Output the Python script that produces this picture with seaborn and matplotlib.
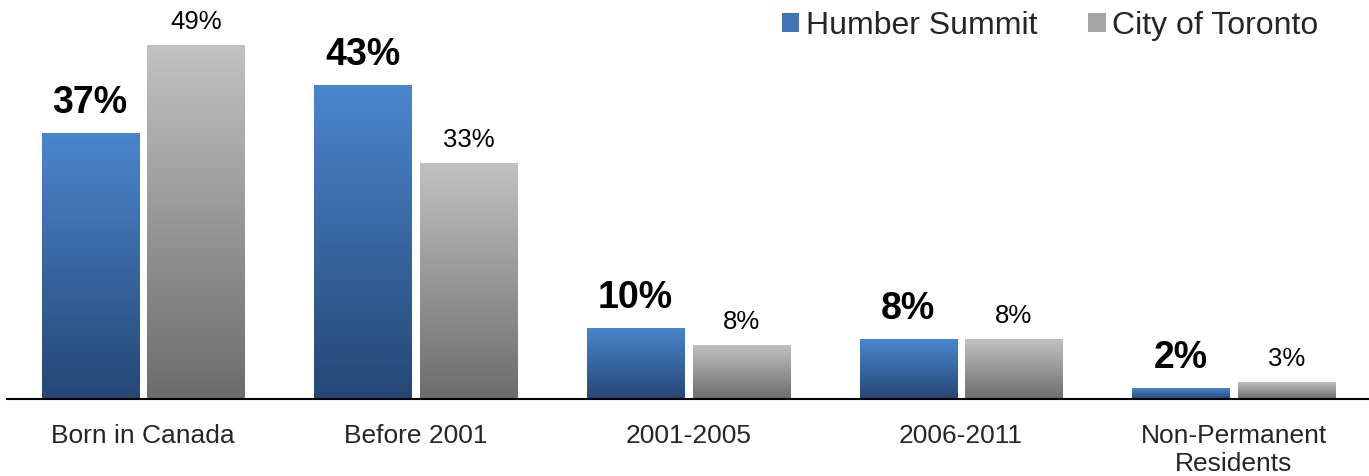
import numpy as np
import pandas as pd
import seaborn as sns
import matplotlib
matplotlib.use("Agg")
import matplotlib.pyplot as plt
from matplotlib.colors import LinearSegmentedColormap
from matplotlib.patches import Patch

categories = ["Born in Canada", "Before 2001", "2001-2005", "2006-2011", "Non-Permanent\nResidents"]
series_names = ["Humber Summit", "City of Toronto"]
humber = [36.8, 43.5, 9.8, 8.3, 1.5]
toronto = [49.0, 32.7, 7.5, 8.3, 2.4]
humber_labels = ["37%", "43%", "10%", "8%", "2%"]
toronto_labels = ["49%", "33%", "8%", "8%", "3%"]

df = pd.DataFrame({
    "category": categories * 2,
    "value": humber + toronto,
    "series": [series_names[0]] * len(categories) + [series_names[1]] * len(categories),
})

sns.set_style("white")
plt.rcParams["font.family"] = ["Liberation Sans", "DejaVu Sans"]

blue_top, blue_bot = "#4a86cc", "#254775"
grey_top, grey_bot = "#c2c2c2", "#6c6c6c"

fig = plt.figure(figsize=(13.69, 4.76), dpi=100)
ax = fig.add_axes([6.6 / 1369, 77 / 476, 1363.5 / 1369, 397 / 476])
sns.barplot(data=df, x="category", y="value", hue="series", hue_order=series_names,
            palette=["#3b6fb0", "#999999"], width=0.774, gap=0.08, ax=ax, legend=False)

cmaps = [LinearSegmentedColormap.from_list("b", [blue_bot, blue_top]),
         LinearSegmentedColormap.from_list("g", [grey_bot, grey_top])]
grad = np.linspace(0, 1, 256).reshape(-1, 1)
for ci, cont in enumerate(ax.containers):
    for bar in cont:
        x, y = bar.get_x(), bar.get_y()
        w, h = bar.get_width(), bar.get_height()
        bar.set_facecolor("none")
        bar.set_edgecolor("none")
        im = ax.imshow(grad, cmap=cmaps[ci], aspect="auto", origin="lower",
                       extent=[x, x + w, y, y + h], zorder=2, interpolation="bicubic")
        im.set_clip_path(bar)
    if ci == 0:
        ax.bar_label(cont, labels=humber_labels, padding=9,
                     fontsize=27, fontweight="bold", color="black")
    else:
        ax.bar_label(cont, labels=toronto_labels, padding=8,
                     fontsize=18.5, color="black")

ax.set_xlim(-0.5, len(categories) - 0.5)
ax.set_ylim(0, 55)
ax.set_xlabel("")
ax.set_ylabel("")
ax.set_yticks([])
ax.tick_params(axis="x", length=0, labelsize=19, pad=18)
for lbl in ax.get_xticklabels():
    lbl.set_linespacing(1.2)
for s in ["top", "right", "left"]:
    ax.spines[s].set_visible(False)
ax.spines["bottom"].set_color("black")
ax.spines["bottom"].set_linewidth(1.5)

handles = [Patch(facecolor="#3f74b6", edgecolor="none"), Patch(facecolor="#a5a5a5", edgecolor="none")]
fig.legend(handles, series_names, loc="upper right", bbox_to_anchor=(0.984, 1.038), ncol=2,
           frameon=False, fontsize=23, handlelength=0.55, handleheight=0.55,
           handletextpad=0.2, columnspacing=1.6)

fig.savefig("out.png", dpi=100)
